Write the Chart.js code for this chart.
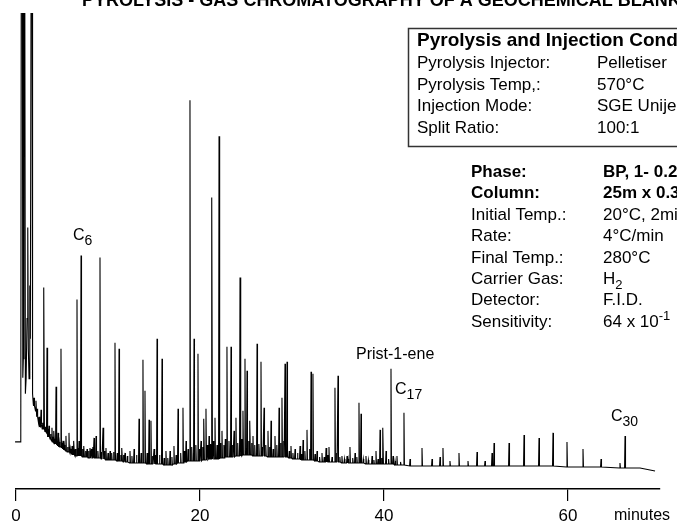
<!DOCTYPE html>
<html>
<head>
<meta charset="utf-8">
<script src="https://cdn.jsdelivr.net/npm/chart.js@4.4.1/dist/chart.umd.min.js"></script>
<style>
  html, body { margin: 0; padding: 0; background: #fff; }
  #wrap { width: 677px; height: 524px; position: relative; }
</style>
</head>
<body>
<div id="wrap"><canvas id="gc-chart"></canvas></div>
<script>
// retention time in minutes, detector response in arbitrary units (full scale = 475)
const solventTimes = [-0.43, -0.12, -0.1, 0.52, 0.58, 0.68, 0.74, 0.8, 0.86, 0.94, 1.02, 1.1, 1.2, 1.28, 1.34, 1.42, 1.5, 1.56, 1.66, 1.74, 1.8, 1.88];
const solventResponse = [32, 32, 47, 47, 600, 600, 111, 130, 600, 600, 95, 110, 170, 261, 140, 110, 203, 150, 600, 600, 95, 85];

// main peaks: apex time, apex response, response at the foot
const peakTimes = [
  1.96, 2.17, 2.5, 2.72, 3.04, 3.37, 3.59, 3.91, 4.13, 4.35, 4.57, 4.89, 5.11, 5.43, 5.76, 6.09, 6.3, 6.63, 6.85, 7.07,
  7.39, 7.72, 8.04, 8.48, 8.7, 9.13, 9.46, 9.78, 10.22, 10.76, 11.2, 11.52, 11.85, 12.39, 12.83, 13.37, 13.8, 14.02, 14.46, 14.67,
  15.0, 15.33, 15.87, 16.3, 16.74, 17.17, 17.61, 18.15, 18.48, 18.91, 19.35, 19.78, 20.11, 20.43, 20.65, 20.98, 21.3, 21.63, 22.07, 22.39,
  22.93, 23.37, 23.7, 23.91, 24.35, 24.67, 24.89, 25.11, 25.43, 25.76, 26.2, 26.63, 26.96, 27.39, 27.72, 28.15, 28.59, 28.91, 29.24, 29.46,
  29.89, 30.33, 30.87, 31.2, 31.63, 32.07, 32.28, 32.72, 33.26, 33.7, 34.02, 34.67, 35.0, 35.43, 35.98, 36.3, 36.85, 37.28, 37.5, 38.04,
  38.7, 39.13, 39.57, 39.89, 40.22, 40.76, 40.98, 41.41, 42.17, 42.83, 44.13, 45.22, 46.09, 46.41, 47.17, 48.15, 49.13, 50.11, 50.98, 51.74,
  51.96, 53.59, 55.22, 56.85, 58.37, 59.89, 61.63, 63.59, 65.65, 66.2
];
const peakHeights = [
  91, 88, 72, 79, 201, 141, 63, 61, 58, 102, 56, 140, 48, 53, 56, 43, 48, 189, 48, 233,
  43, 40, 41, 51, 53, 231, 61, 41, 38, 146, 140, 41, 36, 38, 40, 70, 129, 98, 69, 68,
  40, 150, 130, 38, 38, 43, 80, 81, 48, 388, 150, 135, 48, 70, 80, 53, 291, 71, 352, 58,
  142, 142, 58, 71, 211, 78, 130, 118, 68, 53, 145, 127, 81, 58, 68, 53, 81, 91, 125, 127,
  43, 40, 43, 49, 59, 117, 115, 38, 36, 41, 42, 101, 113, 33, 33, 42, 36, 86, 75, 33,
  33, 38, 59, 61, 38, 120, 33, 33, 76, 30, 41, 30, 32, 41, 28, 36, 28, 37, 28, 36,
  46, 46, 54, 51, 56, 47, 40, 30, 26, 53
];
const peakBases = [
  83, 78, 66, 64, 60, 56, 52, 48, 46, 45, 43, 42, 40, 38, 37, 35, 34, 33, 33, 33,
  32, 32, 31, 31, 31, 31, 30, 29, 29, 29, 28, 28, 27, 26, 26, 26, 26, 26, 25, 25,
  25, 25, 25, 24, 24, 25, 26, 26, 27, 28, 28, 28, 28, 29, 29, 30, 30, 30, 30, 31,
  32, 32, 32, 33, 33, 34, 34, 34, 34, 33, 33, 33, 33, 32, 32, 32, 32, 32, 32, 32,
  31, 30, 30, 29, 29, 29, 29, 28, 27, 27, 27, 27, 27, 26, 26, 26, 26, 26, 26, 25,
  25, 25, 25, 25, 25, 25, 25, 24, 24, 23, 23, 23, 23, 23, 23, 23, 23, 23, 23, 23,
  23, 23, 23, 23, 23, 22, 22, 22, 21, 21
];

// small baseline bumps (noise) between the main peaks
const minorTimes = [
  2.3, 2.6, 2.9, 3.2, 3.5, 3.75, 4.0, 4.25, 4.45, 4.7, 5.0, 5.25, 5.6, 5.9, 6.2, 6.45, 6.75, 6.95, 7.25, 7.55,
  7.88, 8.2, 8.35, 8.9, 9.3, 9.6, 10.0, 10.4, 10.6, 11.0, 11.4, 11.7, 12.1, 12.6, 13.1, 13.6, 14.25, 14.85, 15.15, 15.6,
  16.1, 16.5, 16.95, 17.4, 17.9, 18.3, 18.7, 19.1, 19.55, 19.95, 20.3, 20.8, 21.15, 21.45, 21.85, 22.2, 22.6, 22.75, 23.15, 23.55,
  24.1, 24.5, 25.3, 25.6, 25.95, 26.4, 26.8, 27.15, 27.55, 27.95, 28.35, 28.75, 29.1, 29.7, 30.1, 30.6, 31.0, 31.4, 31.9, 32.5,
  33.0, 33.5, 33.85, 34.35, 34.85, 35.2, 35.7, 36.1, 36.6, 37.05, 37.75, 38.3, 38.9, 39.35, 39.75, 40.5, 41.2, 41.8
];
const minorHeights = [
  80, 68, 66, 62, 56, 55, 52, 50, 48, 47, 46, 44, 42, 40, 39, 40, 41, 40, 40, 38,
  38, 40, 42, 38, 37, 38, 36, 36, 37, 36, 34, 34, 33, 33, 34, 36, 36, 33, 34, 34,
  31, 31, 32, 34, 36, 38, 40, 42, 44, 40, 42, 44, 45, 48, 44, 46, 44, 50, 48, 44,
  46, 50, 48, 46, 44, 45, 42, 44, 42, 40, 44, 46, 48, 38, 36, 36, 35, 38, 40, 35,
  32, 32, 34, 32, 36, 32, 30, 30, 31, 32, 30, 29, 29, 30, 31, 30, 28, 27
];
const minorBases = [
  72, 62, 60, 57, 52, 50, 47, 45, 44, 42, 41, 39, 37, 36, 34, 33, 33, 33, 32, 32,
  31, 31, 31, 31, 30, 30, 29, 29, 29, 28, 28, 27, 27, 26, 26, 26, 25, 25, 25, 25,
  24, 24, 24, 25, 26, 27, 28, 28, 28, 28, 29, 29, 30, 30, 30, 31, 31, 32, 32, 32,
  33, 33, 34, 34, 33, 33, 33, 33, 32, 32, 32, 32, 32, 31, 30, 30, 29, 29, 29, 28,
  27, 27, 27, 27, 27, 27, 26, 26, 26, 26, 26, 25, 25, 25, 25, 25, 24, 24
];

const tailTimes = [67.83, 69.46];
const tailResponse = [21, 18];

const xTicks = [0, 20, 40, 60];

const chartTitle = "PYROLYSIS - GAS CHROMATOGRAPHY OF A GEOCHEMICAL BLANK";
const pyroLabels = ["Pyrolysis Injector:", "Pyrolysis Temp,:", "Injection Mode:", "Split Ratio:"];
const pyroValues = ["Pelletiser", "570°C", "SGE Unijector", "100:1"];
const gcLabels = ["Phase:", "Column:", "Initial Temp.:", "Rate:", "Final Temp.:", "Carrier Gas:", "Detector:", "Sensitivity:"];
const gcValues = ["BP, 1- 0.25µm", "25m x 0.32mm", "20°C, 2min", "4°C/min", "280°C", "H|2", "F.I.D.", "64 x 10^-1"];

// peak annotations: [main, subscript, time, response]
const peakNames = [["C", "6", 6.2, 248], ["Prist-1-ene", "", 36.96, 130], ["C", "17", 41.2, 95], ["C", "30", 64.67, 68]];

const FONT = '"Liberation Sans", Arial, Helvetica, sans-serif';
const NARROW = '"Liberation Sans Narrow", "Arial Narrow", "Liberation Sans", sans-serif';

const spikes = [];
const addSpike = (t, h, b) => {
  spikes.push({ x: t - 0.05, y: b }, { x: t, y: h }, { x: t + 0.05, y: b });
};
peakTimes.forEach((t, i) => addSpike(t, peakHeights[i], peakBases[i]));
minorTimes.forEach((t, i) => addSpike(t, minorHeights[i], minorBases[i]));
spikes.sort((a, b) => a.x - b.x);

const trace = [];
solventTimes.forEach((t, i) => trace.push({ x: t, y: solventResponse[i] }));
spikes.forEach((p) => trace.push(p));
tailTimes.forEach((t, i) => trace.push({ x: t, y: tailResponse[i] }));

function drawValue(ctx, str, x, y, size, weight) {
  // "H|2" -> subscript, "10^-1" -> superscript
  const small = weight + (size - 4) + "px " + FONT;
  if (str.includes("|")) {
    const [a, b] = str.split("|");
    ctx.fillText(a, x, y);
    const w = ctx.measureText(a).width;
    ctx.font = small;
    ctx.fillText(b, x + w, y + 5);
  } else if (str.includes("^")) {
    const [a, b] = str.split("^");
    ctx.fillText(a, x, y);
    const w = ctx.measureText(a).width;
    ctx.font = small;
    ctx.fillText(b, x + w, y - 7);
  } else {
    ctx.fillText(str, x, y);
  }
}

const annotations = {
  id: "annotations",
  afterDraw(chart) {
    const ctx = chart.ctx;
    const xs = chart.scales.x, ys = chart.scales.y;
    ctx.save();
    ctx.fillStyle = "#000";
    ctx.textBaseline = "alphabetic";
    ctx.textAlign = "left";

    // title, cut by the top edge
    ctx.font = "bold 18px " + FONT;
    ctx.fillText(chartTitle, 82, 6);

    // peak names
    peakNames.forEach(([main, sub, t, r]) => {
      const px = xs.getPixelForValue(t), py = ys.getPixelForValue(r);
      ctx.font = "16px " + FONT;
      ctx.fillText(main, px, py);
      if (sub) {
        const w = ctx.measureText(main).width;
        ctx.font = "14px " + FONT;
        ctx.fillText(sub, px + w, py + 5);
      }
    });

    // x axis unit
    ctx.font = "16px " + FONT;
    ctx.textBaseline = "middle";
    ctx.fillText("minutes", 614, 516);
    ctx.textBaseline = "alphabetic";

    // pyrolysis box
    ctx.fillStyle = "#fff";
    ctx.fillRect(408, 28, 280, 118);
    ctx.strokeStyle = "#333";
    ctx.lineWidth = 1.5;
    ctx.strokeRect(408.5, 28.5, 280, 118);
    ctx.fillStyle = "#000";
    ctx.font = "bold 19px " + FONT;
    ctx.fillText("Pyrolysis and Injection Conditions", 417, 46);
    pyroLabels.forEach((lab, i) => {
      const y = 68 + i * 21.5;
      ctx.font = "17px " + FONT;
      ctx.fillText(lab, 417, y);
      ctx.fillText(pyroValues[i], 597, y);
    });

    // GC conditions
    gcLabels.forEach((lab, i) => {
      const y = 177 + i * 21.4;
      const weight = i < 2 ? "bold " : "";
      ctx.font = weight + "17px " + FONT;
      ctx.fillText(lab, 471, y);
      drawValue(ctx, gcValues[i], 603, y, 17, weight);
    });
    ctx.restore();
  }
};

new Chart(document.getElementById("gc-chart"), {
  type: "line",
  data: {
    datasets: [{
      data: trace,
      borderColor: "#000",
      borderWidth: 1.1,
      pointRadius: 0,
      tension: 0,
      fill: false,
      clip: { left: 6, top: 0, right: 8, bottom: 4 }
    }]
  },
  options: {
    responsive: true,
    maintainAspectRatio: false,
    animation: false,
    layout: { padding: { left: 16, right: 17, top: 13, bottom: 0 } },
    plugins: { legend: { display: false }, tooltip: { enabled: false } },
    scales: {
      x: {
        type: "linear",
        min: 0,
        max: 70,
        afterBuildTicks: (s) => { s.ticks = xTicks.map((v) => ({ value: v })); },
        afterFit: (s) => { s.height = 35; },
        grid: { drawOnChartArea: false, drawTicks: true, tickLength: 12, color: "#000", lineWidth: 1.2 },
        border: { display: true, color: "#000", width: 1.5 },
        ticks: { color: "#000", font: { size: 17, family: NARROW }, padding: 5, maxRotation: 0 }
      },
      y: { display: false, min: 0, max: 475 }
    }
  },
  plugins: [annotations]
});
</script>
</body>
</html>
